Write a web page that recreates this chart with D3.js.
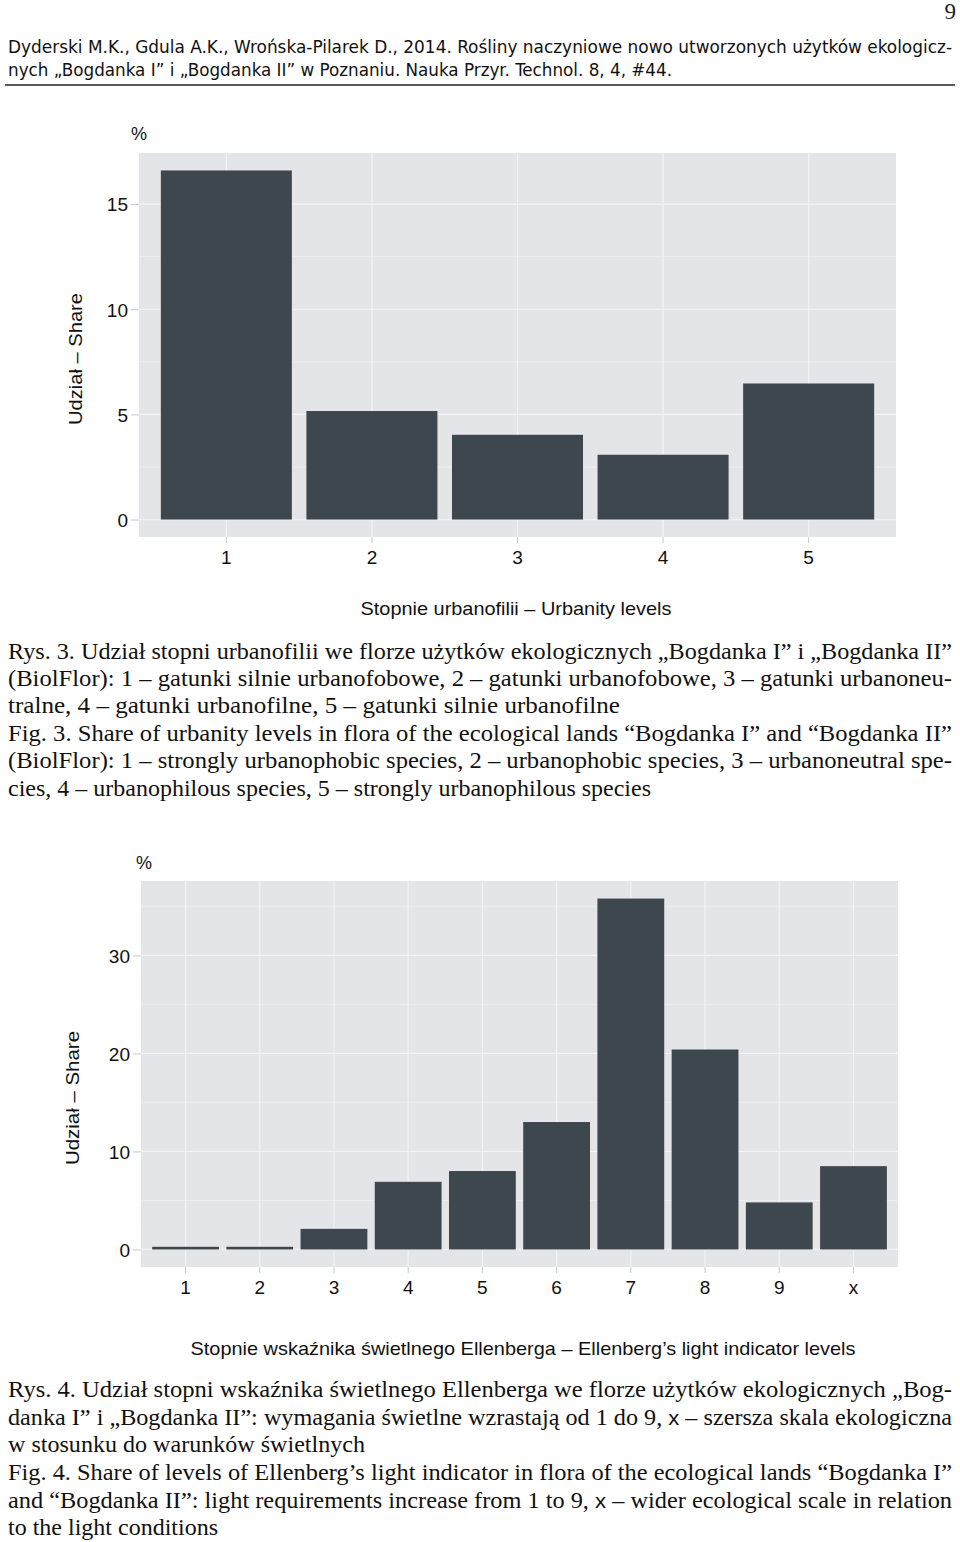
<!DOCTYPE html>
<html>
<head>
<meta charset="utf-8">
<script src="https://cdn.jsdelivr.net/npm/d3@7"></script>
<style>
  html, body { margin: 0; padding: 0; background: #fff; }
  svg { display: block; }
</style>
</head>
<body>
<svg id="page" width="960" height="1542"></svg>
<script>
// ---------- DATA ----------
const urbCategories = ["1", "2", "3", "4", "5"];
const urbValues = [16.6, 5.16, 4.03, 3.08, 6.47];
const urbTicks = [0, 5, 10, 15];

const lightCategories = ["1", "2", "3", "4", "5", "6", "7", "8", "9", "x"];
const lightValues = [0.27, 0.27, 2.1, 6.9, 8.0, 13.0, 35.8, 20.4, 4.8, 8.5];
const lightTicks = [0, 10, 20, 30];

const headerLines = [
  "Dyderski M.K., Gdula A.K., Wrońska-Pilarek D., 2014. Rośliny naczyniowe nowo utworzonych użytków ekologicz-",
  "nych „Bogdanka I” i „Bogdanka II” w Poznaniu. Nauka Przyr. Technol. 8, 4, #44."
];
const caption3 = [
  "Rys. 3. Udział stopni urbanofilii we florze użytków ekologicznych „Bogdanka I” i „Bogdanka II”",
  "(BiolFlor): 1 – gatunki silnie urbanofobowe, 2 – gatunki urbanofobowe, 3 – gatunki urbanoneu-",
  "tralne, 4 – gatunki urbanofilne, 5 – gatunki silnie urbanofilne",
  "Fig. 3. Share of urbanity levels in flora of the ecological lands “Bogdanka I” and “Bogdanka II”",
  "(BiolFlor): 1 – strongly urbanophobic species, 2 – urbanophobic species, 3 – urbanoneutral spe-",
  "cies, 4 – urbanophilous species, 5 – strongly urbanophilous species"
];
const caption4 = [
  "Rys. 4. Udział stopni wskaźnika świetlnego Ellenberga we florze użytków ekologicznych „Bog-",
  "danka I” i „Bogdanka II”: wymagania świetlne wzrastają od 1 do 9, x – szersza skala ekologiczna",
  "w stosunku do warunków świetlnych",
  "Fig. 4. Share of levels of Ellenberg’s light indicator in flora of the ecological lands “Bogdanka I”",
  "and “Bogdanka II”: light requirements increase from 1 to 9, x – wider ecological scale in relation",
  "to the light conditions"
];

// ---------- LAYOUT ----------
const svg = d3.select("#page");
const SANS = "'Liberation Sans', Arial, sans-serif";
const SERIF = "'Liberation Serif', 'Times New Roman', serif";
const HEAD = "'DejaVu Sans Condensed', 'DejaVu Sans', sans-serif";

// page number
svg.append("text").attr("x", 956).attr("y", 19).attr("text-anchor", "end")
  .attr("font-family", SERIF).attr("font-size", 23).attr("fill", "#222").text("9");

// header
const headerY = [53, 76];
const headerW = [944, 664];
headerLines.forEach((t, i) => {
  svg.append("text").attr("x", 8).attr("y", headerY[i])
    .attr("font-family", HEAD).attr("font-size", 18).attr("fill", "#111")
    .attr("textLength", headerW[i]).attr("lengthAdjust", "spacingAndGlyphs")
    .text(t);
});
svg.append("line").attr("x1", 5).attr("x2", 955).attr("y1", 85).attr("y2", 85)
  .attr("stroke", "#222").attr("stroke-width", 1.5);

function drawChart(cfg) {
  const g = svg.append("g");
  const x = d3.scaleBand().domain(cfg.categories)
    .range([cfg.left, cfg.right]).paddingInner(0.1).paddingOuter(0.15);
  const maxV = d3.max(cfg.values);
  const y = d3.scaleLinear().domain([-0.05 * maxV, 1.05 * maxV])
    .range([cfg.bottom, cfg.top]);

  // panel
  g.append("rect").attr("x", cfg.left).attr("y", cfg.top)
    .attr("width", cfg.right - cfg.left).attr("height", cfg.bottom - cfg.top)
    .attr("fill", "#E4E5E9");
  // minor grid
  const step = cfg.ticks[1] - cfg.ticks[0];
  const minor = cfg.ticks.map(t => t + step / 2).filter(m => m < y.domain()[1]);
  g.selectAll(".minor").data(minor).join("line")
    .attr("x1", cfg.left).attr("x2", cfg.right)
    .attr("y1", d => y(d)).attr("y2", d => y(d))
    .attr("stroke", "#ECEDF0").attr("stroke-width", 1);
  // major grid
  g.selectAll(".major").data(cfg.ticks).join("line")
    .attr("x1", cfg.left).attr("x2", cfg.right)
    .attr("y1", d => y(d)).attr("y2", d => y(d))
    .attr("stroke", "#F3F3F5").attr("stroke-width", 1.2);
  g.selectAll(".vgrid").data(cfg.categories).join("line")
    .attr("x1", d => x(d) + x.bandwidth() / 2).attr("x2", d => x(d) + x.bandwidth() / 2)
    .attr("y1", cfg.top).attr("y2", cfg.bottom)
    .attr("stroke", "#F3F3F5").attr("stroke-width", 1.2);

  // bars
  g.selectAll(".bar").data(cfg.values).join("rect")
    .attr("x", (d, i) => x(cfg.categories[i]))
    .attr("width", x.bandwidth())
    .attr("y", d => y(d))
    .attr("height", d => y(0) - y(d))
    .attr("fill", "#3D474D");

  // axes
  const yAxis = d3.axisLeft(y).tickValues(cfg.ticks).tickSize(8).tickPadding(3);
  const ya = g.append("g").attr("transform", `translate(${cfg.left},0)`).call(yAxis);
  ya.select(".domain").remove();
  ya.selectAll(".tick line").attr("stroke", "#C5C6C9");
  ya.selectAll(".tick text").attr("font-family", SANS).attr("font-size", 19).attr("fill", "#111")
    .attr("dy", "0.36em");

  const xAxis = d3.axisBottom(x).tickSize(6).tickPadding(8);
  const xa = g.append("g").attr("transform", `translate(0,${cfg.bottom})`).call(xAxis);
  xa.select(".domain").remove();
  xa.selectAll(".tick line").attr("stroke", "#C5C6C9");
  xa.selectAll(".tick text").attr("font-family", SANS).attr("font-size", 19).attr("fill", "#111");

  // percent sign
  g.append("text").attr("x", cfg.pctX).attr("y", cfg.pctY).attr("text-anchor", "middle")
    .attr("font-family", SANS).attr("font-size", 18).attr("fill", "#111").text("%");
  // y title
  g.append("text").attr("transform", `translate(${cfg.yTitleX},${cfg.yTitleY}) rotate(-90)`)
    .attr("text-anchor", "middle").attr("font-family", SANS).attr("font-size", 19)
    .attr("fill", "#111").attr("textLength", cfg.yTitleW).attr("lengthAdjust", "spacingAndGlyphs")
    .text("Udział – Share");
  // x title
  g.append("text").attr("x", cfg.xTitleX).attr("y", cfg.xTitleY).attr("text-anchor", "middle")
    .attr("font-family", SANS).attr("font-size", 19).attr("fill", "#111")
    .attr("textLength", cfg.xTitleW).attr("lengthAdjust", "spacingAndGlyphs")
    .text(cfg.xTitle);
}

drawChart({
  categories: urbCategories, values: urbValues, ticks: urbTicks,
  left: 139, right: 896, top: 153, bottom: 537,
  pctX: 139, pctY: 140,
  yTitleX: 82, yTitleY: 359, yTitleW: 132,
  xTitle: "Stopnie urbanofilii – Urbanity levels", xTitleX: 516, xTitleY: 615, xTitleW: 311
});

drawChart({
  categories: lightCategories, values: lightValues, ticks: lightTicks,
  left: 141, right: 898, top: 881, bottom: 1267,
  pctX: 144, pctY: 869,
  yTitleX: 79, yTitleY: 1098, yTitleW: 134,
  xTitle: "Stopnie wskaźnika świetlnego Ellenberga – Ellenberg’s light indicator levels",
  xTitleX: 523, xTitleY: 1355, xTitleW: 665
});

// captions (the category symbol "x" is set in sans-serif, as in the original)
function drawCaption(lines, baselines, widths) {
  lines.forEach((t, i) => {
    const txt = svg.append("text").attr("x", 8).attr("y", baselines[i])
      .attr("font-family", SERIF).attr("font-size", 23).attr("fill", "#111")
      .attr("textLength", widths[i]).attr("lengthAdjust", "spacingAndGlyphs");
    const parts = t.split(/(9, )x( –)/);
    if (parts.length > 1) {
      txt.append("tspan").text(parts[0] + parts[1]);
      txt.append("tspan").attr("font-family", SANS).attr("font-size", 21).text("x");
      txt.append("tspan").text(parts[2] + parts[3]);
    } else {
      txt.text(t);
    }
  });
}
drawCaption(caption3, [659, 686, 713, 741, 768, 796], [944, 944, 612, 944, 944, 643]);
drawCaption(caption4, [1397, 1425, 1452, 1480, 1508, 1535], [944, 944, 357, 944, 944, 210]);
</script>
</body>
</html>
